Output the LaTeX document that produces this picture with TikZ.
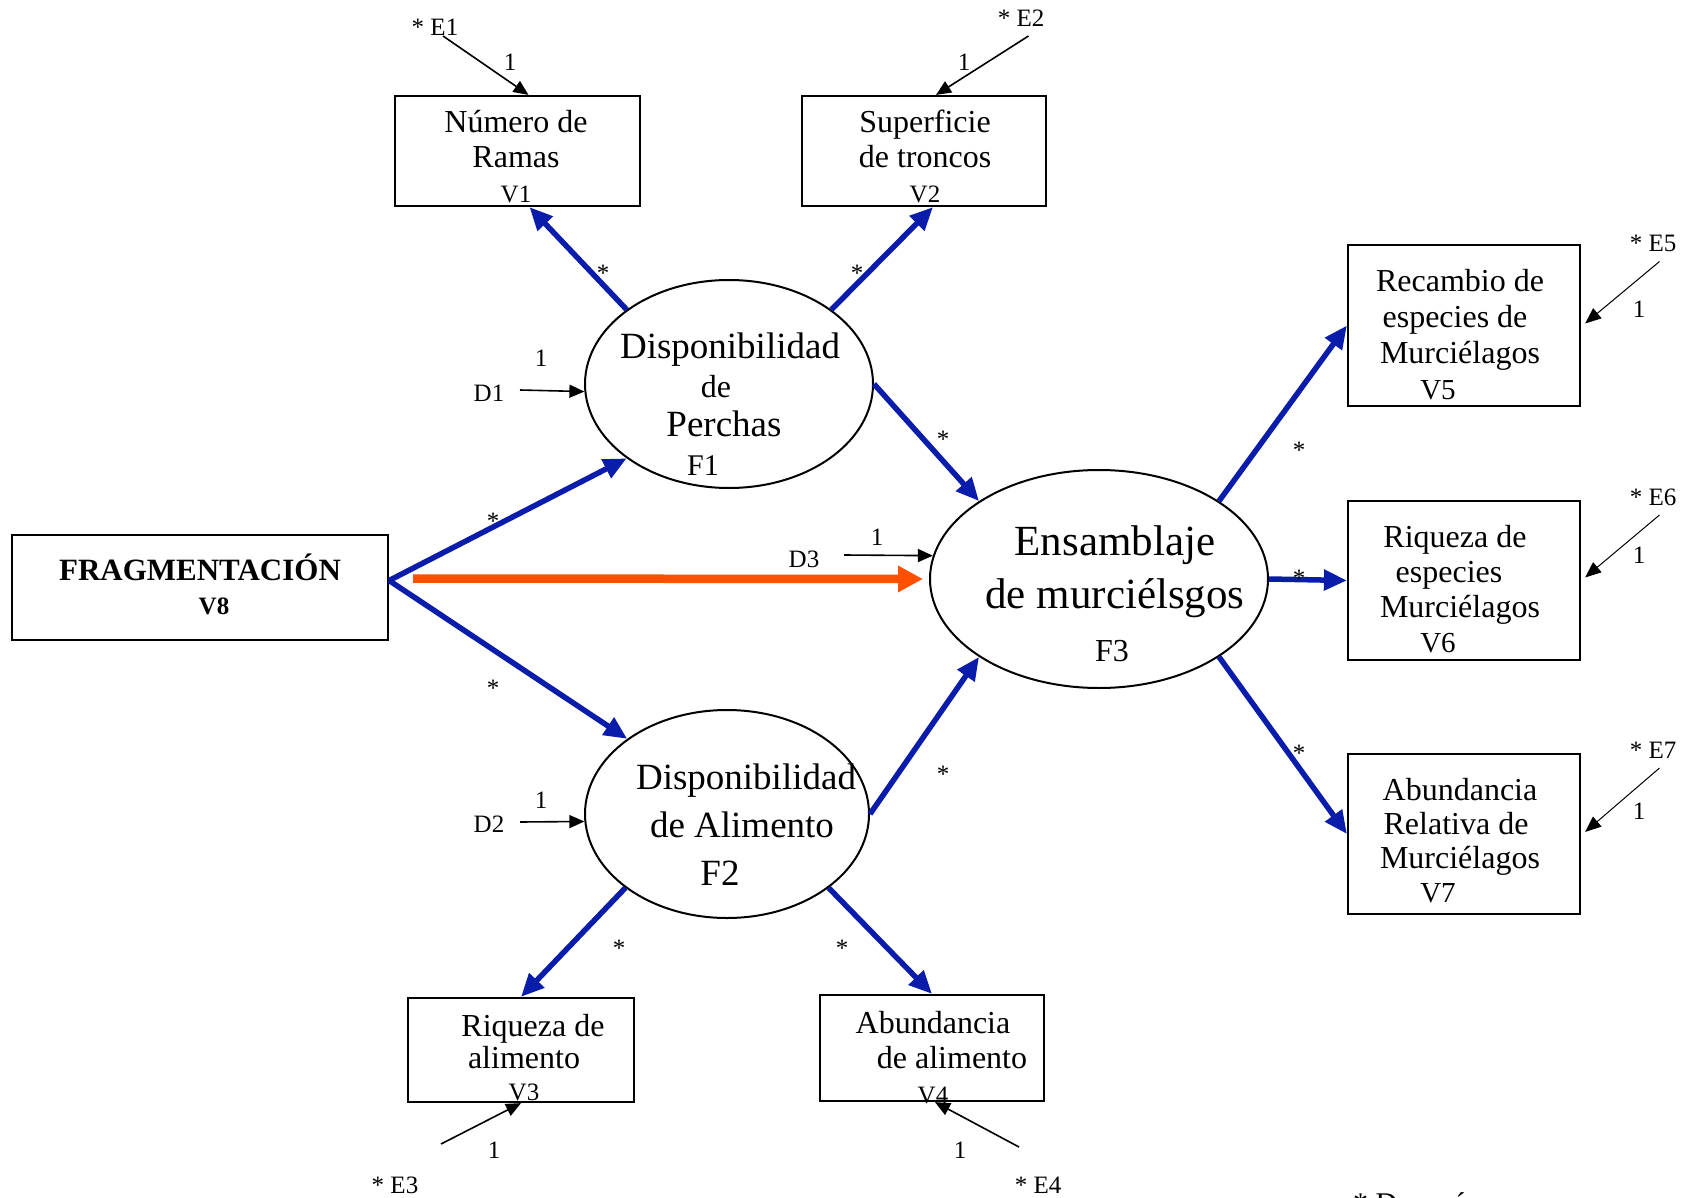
\documentclass[tikz,border=0pt]{standalone}
\usepackage{fontspec}
\setmainfont{Liberation Serif}
\usetikzlibrary{arrows.meta,shapes.geometric}
\definecolor{pathblue}{RGB}{10,28,170}
\definecolor{directorange}{RGB}{255,80,0}
\newcommand\vname[2][25]{{\fontsize{#1}{#1}\selectfont #2}}
\begin{document}
\begin{tikzpicture}[x=1pt,y=-1pt,
  box/.style={draw,line width=2.2pt,inner sep=0pt},
  latent/.style={draw,ellipse,line width=2pt,inner sep=0pt},
  txt/.style={align=center,inner sep=0pt,font=\fontsize{32}{35}\selectfont},
  lbl/.style={inner sep=0pt,font=\fontsize{25}{25}\selectfont},
  effect/.style={draw=pathblue,line width=5.5pt,-{Triangle[length=23pt,width=20pt]}},
  direct/.style={draw=directorange,line width=8.5pt,-{Triangle[length=25pt,width=25pt]}},
  err/.style={line width=1.6pt,-{Triangle[length=15pt,width=13pt]}},
  errthin/.style={line width=1pt,-{Triangle[length=16pt,width=13pt]}}]
\useasboundingbox (0,0) rectangle (1694,1198);
% observed variables
\node[box,minimum width=245pt,minimum height=110pt] (V1) at (517.5,151) {};
\node[box,minimum width=244pt,minimum height=110pt] (V2) at (924,151) {};
\node[box,minimum width=226pt,minimum height=104pt] (V3) at (521,1050) {};
\node[box,minimum width=224pt,minimum height=106pt] (V4) at (932,1048) {};
\node[box,minimum width=232pt,minimum height=161pt] (V5) at (1464,325.5) {};
\node[box,minimum width=232pt,minimum height=159pt] (V6) at (1464,580.5) {};
\node[box,minimum width=232pt,minimum height=160pt] (V7) at (1464,834) {};
\node[box,minimum width=376pt,minimum height=105pt] (V8) at (200,587.5) {};
% factors
\node[latent,minimum width=288pt,minimum height=208pt] (F1) at (729,384) {};
\node[latent,minimum width=284pt,minimum height=208pt] (F2) at (727,814) {};
\node[latent,minimum width=338pt,minimum height=218pt] (F3) at (1099,579) {};
% texts
\node[txt] (V1t) at (516,157) {Número de\\Ramas\\\vname{V1}};
\node[txt] (V2t) at (925,156) {Superficie\\de troncos\\\vname{V2}};
\node[txt,font=\fontsize{32}{32}\selectfont] (V3t) at (524,1058) {\kern18pt Riqueza de\\alimento\\\vname{V3}};
\node[txt] (V4t) at (933,1058) {Abundancia\\\kern38pt de alimento\\\vname{V4}};
\node[txt,font=\fontsize{32}{36}\selectfont] (V5t) at (1460,334.5) {Recambio de\\especies de\kern10pt\\Murciélagos\\\vname[29]{V5}\kern44pt};
\node[txt] (V6t) at (1460,589) {Riqueza de\kern10pt\\especies\kern22pt\\Murciélagos\\\vname[29]{V6}\kern44pt};
\node[txt,font=\fontsize{32}{34}\selectfont] (V7t) at (1460,841) {Abundancia\\Relativa de\kern8pt\\Murciélagos\\\vname[29]{V7}\kern44pt};
\node[txt,font=\bfseries\fontsize{31}{34}\selectfont] (V8t) at (200,584) {FRAGMENTACIÓN\\\kern28pt\vname{V8}};
\node[txt,font=\fontsize{37}{39}\selectfont] (F1t) at (730,404.5) {Disponibilidad\\\vname[32]{de}\kern28pt\\Perchas\kern12pt\\\vname[30]{F1}\kern54pt};
\node[txt,font=\fontsize{37}{48}\selectfont] (F2t) at (746,825) {Disponibilidad\\de Alimento\kern8pt\\F2\kern52pt};
\node[txt,font=\fontsize{43}{53}\selectfont] (F3t) at (1115,594) {Ensamblaje\\de murciélsgos\\\vname[32]{F3}\kern6pt};
% structural paths
\coordinate (V8out) at ([yshift=7pt]V8.east);
\draw[effect] (V8out) -- (F1.216);
\draw[effect] (V8out) -- (F2.143);
\draw[effect] (F1.144) -- ([xshift=12pt]V1.south);
\draw[effect] (F1.36) -- ([xshift=9pt]V2.south);
\draw[effect] (F1.east) -- (F3.147);
\draw[effect] (F2.east) -- (F3.213);
\draw[effect] (F2.216) -- (V3.north);
\draw[effect] (F2.324) -- (V4.north);
\draw[effect] (F3.33) -- (V5.west);
\draw[effect] (F3.east) -- (V6.west);
\draw[effect] (F3.327) -- (V7.west);
\coordinate (V8d) at ([xshift=24pt,yshift=9pt]V8.east);
\draw[direct] (V8d) -- ([xshift=-6pt]F3.west);
\foreach \x/\y [count=\i] in {603/273,857/273,943/439,493/521,493/688,943/774,619/948,842/948,1299/450,1299/578,1299/753}
  \node[lbl] (s\i) at (\x,\y) {*};
% errors and disturbances
\node[lbl] (E1) at (435,27) {* E1};
\coordinate (E1s) at (443,36);
\draw[err] (E1s) -- ([xshift=11pt]V1.north);
\node[lbl] (E1w) at (510,62) {1};
\node[lbl] (E2) at (1021,18.5) {* E2};
\coordinate (E2s) at (1028.5,36);
\draw[err] (E2s) -- ([xshift=12pt]V2.north);
\node[lbl] (E2w) at (964,62) {1};
\node[lbl] (D1) at (489,393) {D1};
\coordinate (D1s) at (520,390);
\draw[err] (D1s) -- (F1.183);
\node[lbl] (D1w) at (541,358) {1};
\node[lbl] (D2) at (489,824) {D2};
\coordinate (D2s) at (520,822);
\draw[err] (D2s) -- (F2.183);
\node[lbl] (D2w) at (541,800) {1};
\node[lbl] (D3) at (804,559) {D3};
\coordinate (D3s) at (844,555);
\draw[err] (D3s) -- (F3.172);
\node[lbl] (D3w) at (877,537) {1};
\node[lbl] (E3) at (395,1185) {* E3};
\coordinate (E3s) at (441,1144);
\draw[err] (E3s) -- (V3.south);
\node[lbl] (E3w) at (494,1150) {1};
\node[lbl] (E4) at (1038,1185) {* E4};
\coordinate (E4s) at (1019,1147);
\draw[err] (E4s) -- ([xshift=3pt]V4.south);
\node[lbl] (E4w) at (960,1150) {1};
\node[lbl] (E5) at (1653,243) {* E5};
\coordinate (E5s) at (1659.5,261.5);
\draw[errthin] (E5s) -- ([xshift=4pt,yshift=2pt]V5.east);
\node[lbl] (E5w) at (1639,309) {1};
\node[lbl] (E6) at (1653,497) {* E6};
\coordinate (E6s) at (1659.5,515);
\draw[errthin] (E6s) -- ([xshift=4pt,yshift=3pt]V6.east);
\node[lbl] (E6w) at (1639,555) {1};
\node[lbl] (E7) at (1653,750) {* E7};
\coordinate (E7s) at (1659.5,768);
\draw[errthin] (E7s) -- ([xshift=4pt,yshift=2pt]V7.east);
\node[lbl] (E7w) at (1639,811) {1};
\node[anchor=base west,inner sep=0pt,font=\fontsize{30}{30}\selectfont] (note) at (1353,1213) {* Después};
\end{tikzpicture}
\end{document}
